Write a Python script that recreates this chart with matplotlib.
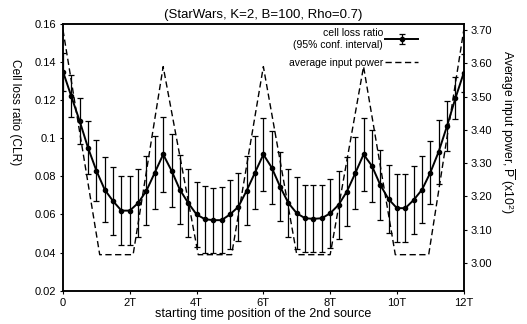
import matplotlib
matplotlib.use("Agg")
import matplotlib.pyplot as plt
import numpy as np

plt.rcParams['font.family'] = ['Liberation Sans', 'DejaVu Sans']
plt.rcParams['mathtext.fontset'] = 'custom'
plt.rcParams['mathtext.rm'] = 'Liberation Sans'
plt.rcParams['mathtext.it'] = 'Liberation Sans'

# --- data (x in units of T) ---
clr_x = [0, 0.25, 0.5, 0.75, 1.0, 1.25, 1.5, 1.75, 2.0, 2.25, 2.5, 2.75, 3.0,
         3.25, 3.5, 3.75, 4.0, 4.25, 4.5, 4.75, 5.0, 5.25, 5.5, 5.75, 6.0,
         6.25, 6.5, 6.75, 7.0, 7.25, 7.5, 7.75, 8.0, 8.25, 8.5, 8.75, 9.0,
         9.25, 9.5, 9.75, 10.0, 10.25, 10.5, 10.75, 11.0, 11.25, 11.5, 11.75, 12.0]
clr_y = [0.135, 0.122, 0.109, 0.095, 0.083, 0.073, 0.067, 0.062, 0.062, 0.066, 0.0725, 0.082, 0.0915,
         0.083, 0.073, 0.066, 0.060, 0.0575, 0.057, 0.057, 0.060, 0.064, 0.0725, 0.082, 0.0915,
         0.0846, 0.0746, 0.066, 0.0606, 0.058, 0.0577, 0.058, 0.0606, 0.065, 0.072, 0.0816, 0.0915,
         0.0855, 0.0755, 0.068, 0.0633, 0.0633, 0.0676, 0.073, 0.082, 0.093, 0.1065, 0.121, 0.1344]
clr_err = [0.010, 0.011, 0.012, 0.014, 0.016, 0.017, 0.018, 0.018, 0.018, 0.018, 0.018, 0.019, 0.0195,
           0.019, 0.018, 0.018, 0.017, 0.0175, 0.017, 0.0175, 0.018, 0.018, 0.018, 0.019, 0.019,
           0.019, 0.018, 0.018, 0.019, 0.0175, 0.0175, 0.0175, 0.018, 0.018, 0.018, 0.019, 0.019,
           0.019, 0.0185, 0.018, 0.018, 0.018, 0.018, 0.0177, 0.0166, 0.0168, 0.013, 0.011, 0.010]

pow_x = [0, 1.1, 2.1, 3.0, 4.05, 5.05, 6.0, 7.0, 8.0, 9.0, 9.95, 10.95, 12.0]
pow_y = [3.70, 3.025, 3.025, 3.59, 3.025, 3.025, 3.59, 3.025, 3.025, 3.59, 3.025, 3.025, 3.70]

xticks = [0, 2, 4, 6, 8, 10, 12]
xticklabels = ['0', '2T', '4T', '6T', '8T', '10T', '12T']
left_ticks = [0.02, 0.04, 0.06, 0.08, 0.10, 0.12, 0.14, 0.16]
left_ticklabels = ['0.02', '0.04', '0.06', '0.08', '0.1', '0.12', '0.14', '0.16']
right_ticks = [3.00, 3.10, 3.20, 3.30, 3.40, 3.50, 3.60, 3.70]

fs = 8
fig = plt.figure(figsize=(5.27, 3.24), dpi=100)
ax = fig.add_axes([0.1195, 0.103, 0.7605, 0.823])
ax2 = ax.twinx()

eb = ax.errorbar(clr_x, clr_y, yerr=clr_err, color='black', lw=1.4, marker='o', ms=3,
                 elinewidth=0.9, capsize=2, capthick=0.9,
                 label='cell loss ratio\n(95% conf. interval)')
ln, = ax2.plot(pow_x, pow_y, color='black', lw=1.0, ls=(0, (4.5, 2.5)),
               label='average input power')

ax.set_xlim(0, 12)
ax.set_ylim(0.02, 0.16)
ax2.set_ylim(2.917, 3.718)

ax.set_xticks(xticks)
ax.set_xticklabels(xticklabels, fontsize=fs)
ax.set_yticks(left_ticks)
ax.set_yticklabels(left_ticklabels, fontsize=fs)
ax2.set_yticks(right_ticks)
ax2.set_yticklabels(['%.2f' % v for v in right_ticks], fontsize=fs)

for a in (ax, ax2):
    a.tick_params(direction='out', length=2, width=0.8, pad=3)
    for s in a.spines.values():
        s.set_linewidth(1.1)

ax.set_title('(StarWars, K=2, B=100, Rho=0.7)', fontsize=9.5, pad=4)
ax.set_xlabel('starting time position of the 2nd source', fontsize=9, labelpad=0)
ax.set_ylabel('Cell loss ratio (CLR)', fontsize=8.6, rotation=-90, va='center')
ax.yaxis.set_label_coords(-0.12, 0.67)
ax2.set_ylabel(r'Average input power, $\overline{\mathrm{P}}$ (x10$^2$)', fontsize=8.7,
               rotation=-90, va='center')
ax2.yaxis.set_label_coords(1.11, 0.595)

leg = ax.legend([eb, ln], [eb.get_label(), ln.get_label()], loc='upper right',
                bbox_to_anchor=(0.905, 1.012), frameon=False, markerfirst=False,
                fontsize=7.5, handlelength=3.2, handletextpad=0.2, labelspacing=0.8,
                borderpad=0.2)
for t in leg.get_texts():
    t.set_multialignment('right')

fig.savefig('out.png', dpi=100)
